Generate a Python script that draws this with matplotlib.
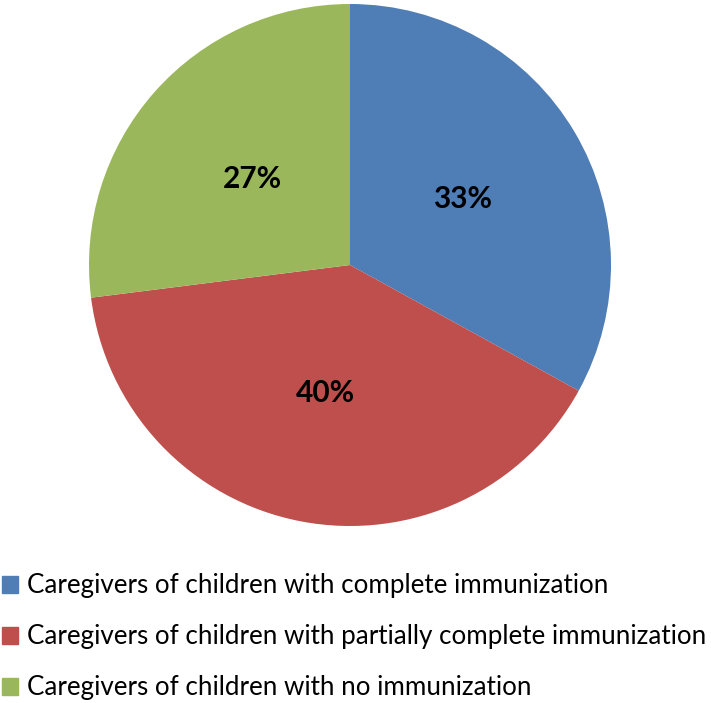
import matplotlib.pyplot as plt
from matplotlib.patches import Rectangle

categories = [
    "Caregivers of children with complete immunization",
    "Caregivers of children with partially complete immunization",
    "Caregivers of children with no immunization",
]
shares = [33, 40, 27]
colors = ["#4F7DB5", "#BE4F4C", "#9BB75B"]

plt.rcParams['font.family'] = ['Lato', 'DejaVu Sans']

W, H = 711, 703
fig = plt.figure(figsize=(W / 100, H / 100), dpi=100)
ax = fig.add_axes([89 / W, 177 / H, 522 / W, 522 / H])

wedges, _, autotexts = ax.pie(
    shares, colors=colors, startangle=90, counterclock=False,
    autopct='%1.0f%%', pctdistance=0.5, radius=1.0,
    wedgeprops=dict(linewidth=0),
    textprops=dict(fontsize=21.5, fontweight='bold', color='black'),
)
ax.set_aspect('equal')
ax.set_xlim(-1, 1)
ax.set_ylim(-1, 1)

# legend below the pie, drawn by hand (square + label per row)
for i, (label, color) in enumerate(zip(categories, colors)):
    base = 1 - (593 + 51 * i) / H
    fig.patches.append(Rectangle((2 / W, base), 16 / W, 17 / H,
                                 transform=fig.transFigure, color=color))
    fig.text(27 / W, base, label, fontsize=18.75, va='baseline', ha='left')

fig.savefig("out.png", dpi=100)
plt.close(fig)
